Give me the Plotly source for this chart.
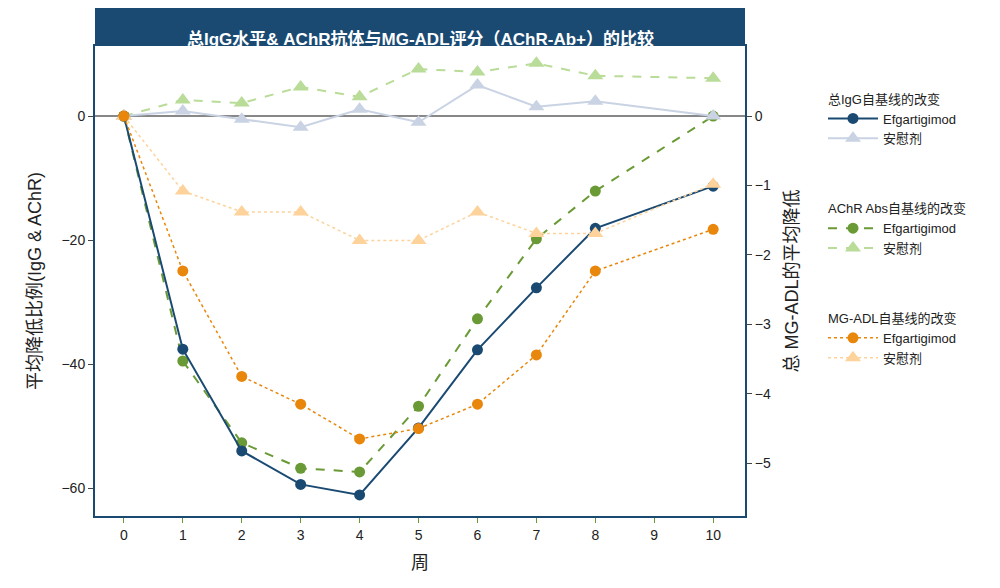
import plotly.graph_objects as go

weeks = [0, 1, 2, 3, 4, 5, 6, 7, 8, 10]
igg_efg = [0, -37.6, -54.0, -59.4, -61.1, -50.3, -37.7, -27.7, -18.1, -11.3]
igg_pbo = [0, 0.8, -0.5, -1.8, 1.1, -1.0, 5.0, 1.5, 2.4, 0]
achr_efg = [0, -39.5, -52.7, -56.8, -57.4, -46.8, -32.7, -19.8, -12.1, 0]
achr_pbo = [0, 2.6, 2.1, 4.7, 3.1, 7.6, 7.1, 8.5, 6.5, 6.1]
adl_efg = [0, -2.23, -3.75, -4.15, -4.65, -4.5, -4.15, -3.44, -2.23, -1.63]
adl_pbo = [0, -1.08, -1.38, -1.38, -1.79, -1.79, -1.38, -1.69, -1.69, -0.98]

NAVY = "#1a4a72"
fig = go.Figure()
def add(y, name, color, dash, sym, grp, gtitle, rank, yaxis="y", width=2):
    fig.add_trace(go.Scatter(x=weeks, y=y, name=name, mode="lines+markers", yaxis=yaxis,
        line=dict(color=color, dash=dash, width=width), legendrank=rank,
        marker=dict(color=color, symbol=sym, size=11 if sym == "circle" else 14),
        legendgroup=grp, legendgrouptitle=dict(text=gtitle, font=dict(size=13, color="#222"))))

add(adl_pbo, "安慰剂", "#fdd39b", "dot", "triangle-up", "c", "MG-ADL自基线的改变", 31, "y2", 1.5)
add(adl_efg, "Efgartigimod", "#e8870c", "dot", "circle", "c", "MG-ADL自基线的改变", 30, "y2", 1.5)
add(achr_pbo, "安慰剂", "#b9dc98", "dash", "triangle-up", "b", "AChR Abs自基线的改变", 21)
add(achr_efg, "Efgartigimod", "#6a9a35", "dash", "circle", "b", "AChR Abs自基线的改变", 20)
add(igg_pbo, "安慰剂", "#c9d3e3", "solid", "triangle-up", "a", "总IgG自基线的改变", 11)
add(igg_efg, "Efgartigimod", NAVY, "solid", "circle", "a", "总IgG自基线的改变", 10)

fig.update_layout(
    width=1000, height=588, margin=dict(l=87, r=263, t=38, b=80, autoexpand=False),
    plot_bgcolor="white", paper_bgcolor="white",
    font=dict(family="Liberation Sans, Noto Sans CJK SC, Arial", size=14, color="#222"),
    xaxis=dict(range=[-0.49, 10.54], tickvals=list(range(11)), ticks="outside", tickcolor="#6a9a35",
               showgrid=False, zeroline=False, showline=True, linecolor=NAVY, linewidth=2, mirror=True,
               title=dict(text="周", font=dict(size=18))),
    yaxis=dict(range=[-64.5, 11.3], tickvals=[0, -20, -40, -60], ticks="outside", showgrid=False,
               zeroline=True, zerolinecolor="#888", zerolinewidth=2,
               showline=True, linecolor=NAVY, linewidth=2,
               title=dict(text="平均降低比例(IgG & AChR)", font=dict(size=18))),
    yaxis2=dict(range=[-5.76, 1.01], overlaying="y", side="right", tickvals=[0, -1, -2, -3, -4, -5],
                ticks="outside", showgrid=False, zeroline=False, showline=True, linecolor=NAVY, linewidth=2,
                title=dict(text="总 MG-ADL的平均降低", font=dict(size=18))),
    legend=dict(x=1.12, y=0.92, xanchor="left", yanchor="top", tracegroupgap=50,
                font=dict(size=13), itemwidth=50),
    shapes=[dict(type="rect", xref="paper", yref="paper", x0=0, x1=1, y0=1, y1=1 + 38 / 470,
                 fillcolor=NAVY, line=dict(width=0))],
    annotations=[dict(text="<b>总IgG水平& AChR抗体与MG-ADL评分（AChR-Ab+）的比较</b>", xref="paper", yref="paper",
                      x=0.5, y=1 + 19 / 470, showarrow=False, font=dict(size=17, color="white"))],
)
fig.write_html("out.html")
